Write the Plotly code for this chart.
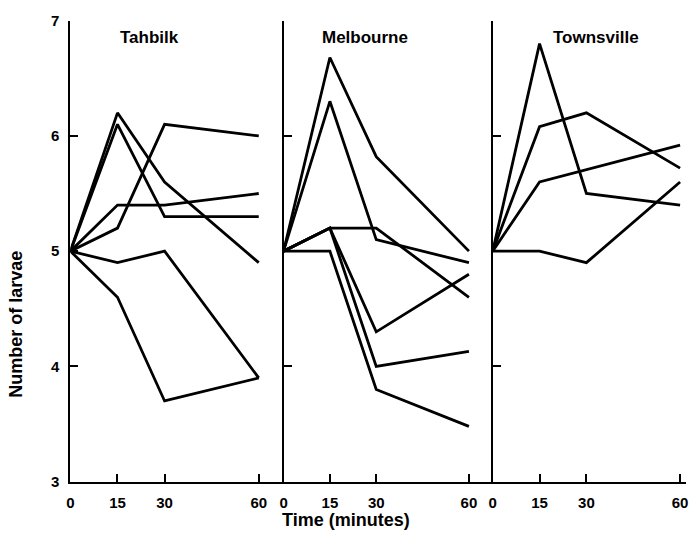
import plotly.graph_objects as go

# ---- data ----
time_min = [0, 15, 30, 60]
x_ticks = [0, 15, 30, 60]
y_ticks = [3, 4, 5, 6, 7]
panel_titles = ["Tahbilk", "Melbourne", "Townsville"]

tahbilk_a = [5.0, 6.2, 5.6, 4.9]
tahbilk_b = [5.0, 6.1, 5.3, 5.3]
tahbilk_c = [5.0, 5.2, 6.1, 6.0]
tahbilk_d = [5.0, 5.4, 5.4, 5.5]
tahbilk_e = [5.0, 4.9, 5.0, 3.9]
tahbilk_f = [5.0, 4.6, 3.7, 3.9]

melbourne_a = [5.0, 6.68, 5.82, 5.0]
melbourne_b = [5.0, 6.3, 5.1, 4.9]
melbourne_c = [5.0, 5.2, 5.2, 4.6]
melbourne_d = [5.0, 5.2, 4.3, 4.8]
melbourne_e = [5.0, 5.2, 4.0, 4.13]
melbourne_f = [5.0, 5.0, 3.8, 3.48]

townsville_a = [5.0, 6.8, 5.5, 5.4]
townsville_b = [5.0, 6.08, 6.2, 5.72]
townsville_c = [5.0, 5.6, None, 5.92]
townsville_d = [5.0, 5.0, 4.9, 5.6]

panels = [
    [tahbilk_a, tahbilk_b, tahbilk_c, tahbilk_d, tahbilk_e, tahbilk_f],
    [melbourne_a, melbourne_b, melbourne_c, melbourne_d, melbourne_e, melbourne_f],
    [townsville_a, townsville_b, townsville_c, townsville_d],
]

W, H = 690, 541
FONT = "Liberation Sans"

fig = go.Figure()
for i, series in enumerate(panels):
    xa = "x" if i == 0 else f"x{i+1}"
    ya = "y" if i == 0 else f"y{i+1}"
    for s in series:
        fig.add_trace(go.Scatter(
            x=time_min, y=s, xaxis=xa, yaxis=ya, mode="lines",
            line=dict(color="black", width=2.8), connectgaps=True,
            showlegend=False, hoverinfo="skip"))

# pixel layout of panels: (x0 pixel, end pixel, range max)
panel_px = [(67, 282, 67.9), (282, 493, 67.7), (493, 688, 61.9)]
y_bot, y_top = 488, 12
ydom = [1 - y_bot / H, 1 - y_top / H]

layout = dict(
    width=W, height=H, margin=dict(l=0, r=0, t=0, b=0),
    paper_bgcolor="white", plot_bgcolor="white",
    font=dict(family=FONT, color="black"),
)
for i, (p0, p1, rmax) in enumerate(panel_px):
    xk = "xaxis" if i == 0 else f"xaxis{i+1}"
    yk = "yaxis" if i == 0 else f"yaxis{i+1}"
    ya = "y" if i == 0 else f"y{i+1}"
    xa = "x" if i == 0 else f"x{i+1}"
    layout[xk] = dict(
        domain=[p0 / W, p1 / W], range=[0, rmax], anchor=ya,
        showgrid=False, zeroline=False, showline=True, linecolor="black", linewidth=2,
        ticks="inside", ticklen=8, tickwidth=1.5, tickcolor="black",
        tickvals=x_ticks, ticktext=[str(v) for v in x_ticks],
        tickfont=dict(size=15, family=FONT, weight="bold"),
        ticklabelstandoff=6, ticklabeloverflow="allow",
    )
    layout[yk] = dict(
        domain=ydom, range=[3, 7], anchor=xa,
        showgrid=False, zeroline=False, showline=True, linecolor="black", linewidth=2,
        ticks="inside", ticklen=8, tickwidth=1.5, tickcolor="black",
        tickvals=y_ticks if i == 0 else y_ticks[1:],
        ticktext=[str(v) for v in y_ticks] if i == 0 else None,
        showticklabels=(i == 0),
        tickfont=dict(size=15, family=FONT, weight="bold"),
        ticklabelstandoff=6, ticklabeloverflow="allow",
    )
fig.update_layout(**layout)

title_x = [147, 364, 597]
for t, xp in zip(panel_titles, title_x):
    fig.add_annotation(text=t, x=xp / W, y=1 - 29 / H, xref="paper", yref="paper",
                       xanchor="center", yanchor="middle",
                       showarrow=False, font=dict(size=17, family=FONT, weight="bold"))

fig.add_annotation(text="Time (minutes)", x=345 / W, y=1 - 528 / H, xref="paper", yref="paper",
                   xanchor="center", yanchor="middle",
                   showarrow=False, font=dict(size=18, family=FONT, weight="bold"))
fig.add_annotation(text="Number of larvae", x=12 / W, y=1 - 325 / H, xref="paper", yref="paper",
                   xanchor="center", yanchor="middle",
                   showarrow=False, textangle=-90, font=dict(size=18, family=FONT, weight="bold"))

fig.write_html("out.html")
